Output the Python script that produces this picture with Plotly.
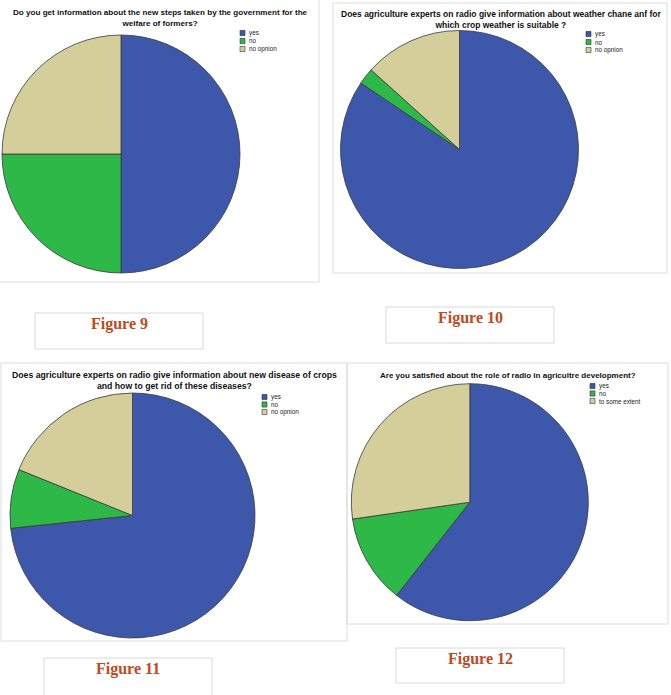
import plotly.graph_objects as go

W, H = 671, 695

# ---- data ----
labels_fig9 = ["yes", "no", "no opnion"]
values_fig9 = [50, 25, 25]
labels_fig10 = ["yes", "no", "no opnion"]
values_fig10 = [76, 2, 12]
labels_fig11 = ["yes", "no", "no opnion"]
values_fig11 = [66, 7, 17]
labels_fig12 = ["yes", "no", "to some extent"]
values_fig12 = [20, 4, 9]

titles = [
    "Do you get information about the new steps taken by the government for the<br>welfare of formers?",
    "Does agriculture experts on radio give information about weather chane anf for<br>which crop weather is suitable ?",
    "Does agriculture experts on radio give information about new disease of crops<br>and how to get rid of these diseases?",
    "Are you satisfied about the role of radio in agricultre development?",
]
figure_labels = ["Figure 9", "Figure 10", "Figure 11", "Figure 12"]

colors = ["#3D58AB", "#2EB847", "#D4CF9A"]

# ---- layout helpers (pixel -> paper) ----
def px(x):
    return x / W

def py(y):
    return 1 - y / H

panels = [
    dict(labels=labels_fig9, values=values_fig9, cx=121, cy=154, r=119,
         box=(-1, -1, 319, 282), title=(160, 18, 8.1),
         leg=(240, 33, 8), figbox=(35, 313, 203, 349), figtxt=(119, 324)),
    dict(labels=labels_fig10, values=values_fig10, cx=459.5, cy=149.5, r=119,
         box=(333, 3, 667, 273), title=(501, 19.5, 8.5),
         leg=(586, 34, 8), figbox=(386, 307, 554, 343), figtxt=(471, 318)),
    dict(labels=labels_fig11, values=values_fig11, cx=132.5, cy=515.5, r=122.5,
         box=(1, 363, 347, 641), title=(174, 381, 8.7),
         leg=(262, 397, 7.5), figbox=(44, 658, 212, 705), figtxt=(128, 669)),
    dict(labels=labels_fig12, values=values_fig12, cx=469.8, cy=502.2, r=118.5,
         box=(347, 363, 668, 624), title=(508, 375, 8.0),
         leg=(590, 386, 7.5), figbox=(396, 648, 564, 683), figtxt=(480, 659)),
]

fig = go.Figure()
shapes = []
annotations = []

for i, p in enumerate(panels):
    # panel frame
    x0, y0, x1, y1 = p["box"]
    shapes.append(dict(type="rect", xref="paper", yref="paper",
                       x0=px(x0), x1=px(x1), y0=py(y1), y1=py(y0),
                       line=dict(color="#DCDCDC", width=1), fillcolor="rgba(0,0,0,0)",
                       layer="below"))
    # pie
    cx, cy, r = p["cx"], p["cy"], p["r"]
    fig.add_trace(go.Pie(
        labels=p["labels"], values=p["values"],
        sort=False, direction="clockwise", rotation=0,
        marker=dict(colors=colors, line=dict(color="#3A3A3A", width=0.8)),
        textinfo="none", hoverinfo="label+value+percent",
        showlegend=False,
        domain=dict(x=[px(cx - r), px(cx + r)], y=[py(cy + r), py(cy - r)]),
    ))
    # title
    tx, ty, ts = p["title"]
    annotations.append(dict(x=px(tx), y=py(ty), xref="paper", yref="paper",
                            text="<b>" + titles[i] + "</b>", showarrow=False,
                            xanchor="center", yanchor="middle", align="center",
                            font=dict(family="Arial, Liberation Sans", size=ts, color="#111111")))
    # custom legend
    lx, ly, step = p["leg"]
    for k, lab in enumerate(p["labels"]):
        yc = ly + k * step
        shapes.append(dict(type="rect", xref="paper", yref="paper",
                           x0=px(lx), x1=px(lx + 5), y0=py(yc + 2.6), y1=py(yc - 2.6),
                           fillcolor=colors[k], line=dict(color="#333333", width=0.6)))
        annotations.append(dict(x=px(lx + 6.5), y=py(yc), xref="paper", yref="paper",
                                text=lab, showarrow=False, xanchor="left", yanchor="middle",
                                font=dict(family="Arial, Liberation Sans", size=6.3, color="#222222")))
    # figure caption box
    fx0, fy0, fx1, fy1 = p["figbox"]
    shapes.append(dict(type="rect", xref="paper", yref="paper",
                       x0=px(fx0), x1=px(fx1), y0=py(fy1), y1=py(fy0),
                       line=dict(color="#D9D9D9", width=1), fillcolor="rgba(0,0,0,0)"))
    ftx, fty = p["figtxt"]
    annotations.append(dict(x=px(ftx), y=py(fty), xref="paper", yref="paper",
                            text="<b>" + figure_labels[i] + "</b>", showarrow=False,
                            xanchor="center", yanchor="middle",
                            font=dict(family="Liberation Serif, Times New Roman, serif",
                                      size=16, color="#BE4A1D")))

fig.update_layout(
    width=W, height=H,
    margin=dict(l=0, r=0, t=0, b=0),
    paper_bgcolor="white", plot_bgcolor="white",
    shapes=shapes, annotations=annotations,
    showlegend=False,
)

fig.write_html(
    "out.html",
    config={"displayModeBar": False},
    post_script="document.body.style.margin='0';document.body.style.padding='0';"
                "document.documentElement.style.overflow='hidden';",
)
